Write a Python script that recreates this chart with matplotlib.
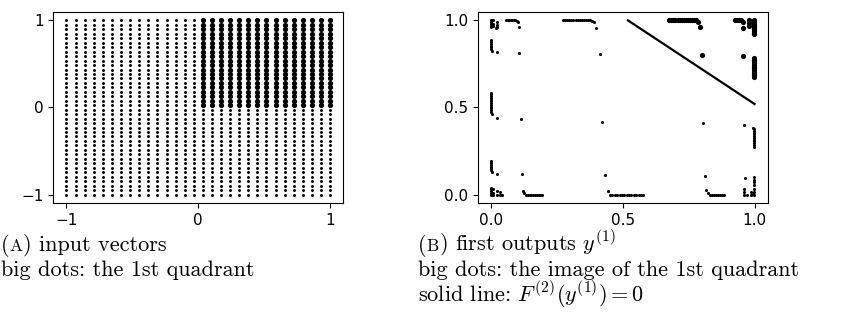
import matplotlib
matplotlib.use("Agg")
import matplotlib.pyplot as plt

plt.rcParams['mathtext.fontset'] = 'cm'

# (a) input grid: column and row coordinates
grid_x = [-1.0, -0.931, -0.862, -0.793, -0.724, -0.655, -0.586, -0.517, -0.448, -0.379,
          -0.310, -0.241, -0.172, -0.103, -0.034, 0.034, 0.103, 0.172, 0.241, 0.310,
          0.379, 0.448, 0.517, 0.586, 0.655, 0.724, 0.793, 0.862, 0.931, 1.0]
grid_y = [-1.0, -0.949, -0.897, -0.846, -0.795, -0.744, -0.692, -0.641, -0.590, -0.538,
          -0.487, -0.436, -0.385, -0.333, -0.282, -0.231, -0.179, -0.128, -0.077, -0.026,
          0.026, 0.077, 0.128, 0.179, 0.231, 0.282, 0.333, 0.385, 0.436, 0.487,
          0.538, 0.590, 0.641, 0.692, 0.744, 0.795, 0.846, 0.897, 0.949, 1.0]

# (b) first outputs, small dots (images of the other quadrants)
small_x = [
    # top-left corner
    0.0, 0.0, 0.0, 0.0, 0.0, 0.008, 0.008, 0.008, 0.022, 0.022, 0.022, 0.019,
    # top run near 0.08
    0.057, 0.063, 0.069, 0.075, 0.081, 0.087, 0.093, 0.098, 0.102, 0.107,
    # left column pieces
    0.0, 0.0, 0.0, 0.0, 0.0, 0.0, 0.003, 0.022, 0.108,
    0.0, 0.0, 0.0, 0.0, 0.0, 0.0, 0.0, 0.0, 0.0, 0.0, 0.0, 0.0, 0.003, 0.022, 0.113,
    0.0, 0.0, 0.0, 0.0, 0.0, 0.0, 0.003, 0.022, 0.117,
    # bottom-left corner
    0.0, 0.0, 0.0, 0.0, 0.0, 0.008, 0.008, 0.008, 0.025, 0.025, 0.035, 0.035, 0.042,
    # bottom run near 0.16
    0.121, 0.127, 0.133, 0.140, 0.147, 0.154, 0.161, 0.168, 0.175, 0.182, 0.188, 0.193,
    # top run near 0.33 and the column below it
    0.273, 0.281, 0.289, 0.297, 0.305, 0.313, 0.321, 0.329, 0.337, 0.345, 0.353, 0.361,
    0.369, 0.377, 0.384, 0.390, 0.400, 0.412, 0.422, 0.432,
    # bottom run near 0.51
    0.443, 0.452, 0.461, 0.470, 0.479, 0.488, 0.497, 0.506, 0.515, 0.524, 0.533, 0.542,
    0.551, 0.560, 0.569, 0.577,
    # column near 0.81 and bottom run
    0.806, 0.813, 0.816, 0.823, 0.830, 0.838, 0.846, 0.854, 0.862, 0.870, 0.878, 0.886,
    # right column pieces
    0.960, 0.995, 0.998, 0.998, 0.998, 0.998, 0.998, 0.998, 0.998, 0.998, 0.998, 0.998, 0.998,
    0.962, 0.998, 0.998, 0.998, 0.998,
    # bottom-right corner
    0.960, 0.960, 0.960, 0.970, 0.985, 0.985, 0.993, 0.998, 0.998, 0.998,
]
small_y = [
    1.0, 0.99, 0.98, 0.97, 0.96, 1.0, 0.98, 0.965, 0.99, 0.975, 0.96, 0.955,
    1.0, 1.0, 1.0, 1.0, 1.0, 1.0, 1.0, 0.998, 0.99, 0.96,
    0.885, 0.875, 0.865, 0.855, 0.845, 0.835, 0.827, 0.818, 0.81,
    0.585, 0.575, 0.565, 0.555, 0.545, 0.535, 0.525, 0.515, 0.505, 0.495, 0.485, 0.475,
    0.462, 0.442, 0.432,
    0.19, 0.18, 0.17, 0.16, 0.15, 0.14, 0.132, 0.12, 0.116,
    0.04, 0.03, 0.02, 0.01, 0.0, 0.03, 0.01, 0.0, 0.02, 0.0, 0.015, 0.0, 0.0,
    0.023, 0.008, 0.0, 0.0, 0.0, 0.0, 0.0, 0.0, 0.0, 0.0, 0.0, 0.0,
    1.0, 1.0, 1.0, 1.0, 1.0, 1.0, 1.0, 1.0, 1.0, 1.0, 1.0, 1.0,
    1.0, 1.0, 0.998, 0.99, 0.957, 0.805, 0.419, 0.11,
    0.02, 0.0, 0.0, 0.0, 0.0, 0.0, 0.0, 0.0, 0.0, 0.0, 0.0, 0.0,
    0.0, 0.0, 0.0, 0.0,
    0.409, 0.104, 0.027, 0.008, 0.0, 0.0, 0.0, 0.0, 0.0, 0.0, 0.0, 0.0,
    0.40, 0.38, 0.375, 0.365, 0.355, 0.345, 0.335, 0.325, 0.315, 0.305, 0.295, 0.285, 0.275,
    0.097, 0.10, 0.085, 0.07, 0.055,
    0.03, 0.015, 0.0, 0.0, 0.0, 0.015, 0.005, 0.0, 0.015, 0.03,
]

# (b) first outputs, big dots (image of the 1st quadrant)
big_x = [
    0.676, 0.684, 0.692, 0.700, 0.708, 0.716, 0.724, 0.732, 0.740, 0.748, 0.756, 0.764,
    0.771, 0.778, 0.785, 0.794, 0.800,
    0.925, 0.933, 0.941, 0.949, 0.955, 0.958,
    0.998, 0.998, 0.998, 0.998, 0.998, 0.998, 0.998, 0.998, 0.998, 0.980, 0.980, 0.980,
    0.956, 0.998, 0.998, 0.998, 0.998, 0.998, 0.998, 0.998, 0.998, 0.998, 0.998, 0.998,
    0.998,
]
big_y = [
    1.0, 1.0, 1.0, 1.0, 1.0, 1.0, 1.0, 1.0, 1.0, 1.0, 1.0, 1.0,
    1.0, 1.0, 0.99, 0.96, 0.80,
    1.0, 1.0, 1.0, 1.0, 0.99, 0.958,
    1.0, 0.99, 0.98, 0.97, 0.96, 0.95, 0.94, 0.93, 0.92, 1.0, 0.985, 0.965,
    0.795, 0.785, 0.775, 0.765, 0.755, 0.745, 0.735, 0.725, 0.715, 0.705, 0.695, 0.685,
    0.675,
]

# F^(2)(y^(1)) = 0
line_x = [0.52, 1.0]
line_y = [1.0, 0.52]

fig = plt.figure(figsize=(8.47, 3.32), dpi=100)
ax1 = fig.add_axes([0.0629, 0.3877, 0.3424, 0.5771])
ax2 = fig.add_axes([0.5640, 0.3877, 0.3424, 0.5771])

gx, gy, gbig = [], [], []
for xv in grid_x:
    for yv in grid_y:
        gx.append(xv)
        gy.append(yv)
        gbig.append(xv > 0 and yv > 0)
sm = [not b for b in gbig]
ax1.scatter([x for x, b in zip(gx, sm) if b], [y for y, b in zip(gy, sm) if b],
            s=4.5, c='black', linewidths=0)
ax1.scatter([x for x, b in zip(gx, gbig) if b], [y for y, b in zip(gy, gbig) if b],
            s=14, c='black', linewidths=0)
ax1.set_xlim(-1.1, 1.1)
ax1.set_ylim(-1.1, 1.1)
ax1.set_xticks([-1, 0, 1])
ax1.set_yticks([-1, 0, 1])

ax2.scatter(small_x, small_y, s=5, c='black', linewidths=0)
ax2.scatter(big_x, big_y, s=14, c='black', linewidths=0)
ax2.plot(line_x, line_y, color='black', lw=1.6)
ax2.set_xlim(-0.05, 1.05)
ax2.set_ylim(-0.05, 1.05)
ax2.set_xticks([0.0, 0.5, 1.0])
ax2.set_yticks([0.0, 0.5, 1.0])

for ax in (ax1, ax2):
    ax.tick_params(labelsize=11)

# captions in LaTeX-like serif
cap_size = 16
renderer = fig.canvas.get_renderer()


def put(x_px, base_px, s, size):
    # place text by pixel position (left, baseline measured from the top)
    t = fig.text(x_px / 847, 1 - base_px / 332, s, family='cmr10', size=size,
                 va='baseline', ha='left')
    return x_px + t.get_window_extent(renderer).width


def caption_head(letter, rest, x_px, base_px):
    x_px = put(x_px, base_px, "(", cap_size)
    x_px = put(x_px, base_px, letter, cap_size * 0.78)
    put(x_px, base_px, ")" + rest, cap_size)


caption_head("A", " input vectors", 1, 251)
caption_head("B", " first outputs $y^{(1)}$", 418, 251)
put(1, 276, "big dots: the 1st quadrant", cap_size)
put(418, 276, "big dots: the image of the 1st quadrant", cap_size)
put(418, 302, "solid line: $F^{(2)}(y^{(1)}) = 0$", cap_size)

fig.savefig("out.png", dpi=100)
